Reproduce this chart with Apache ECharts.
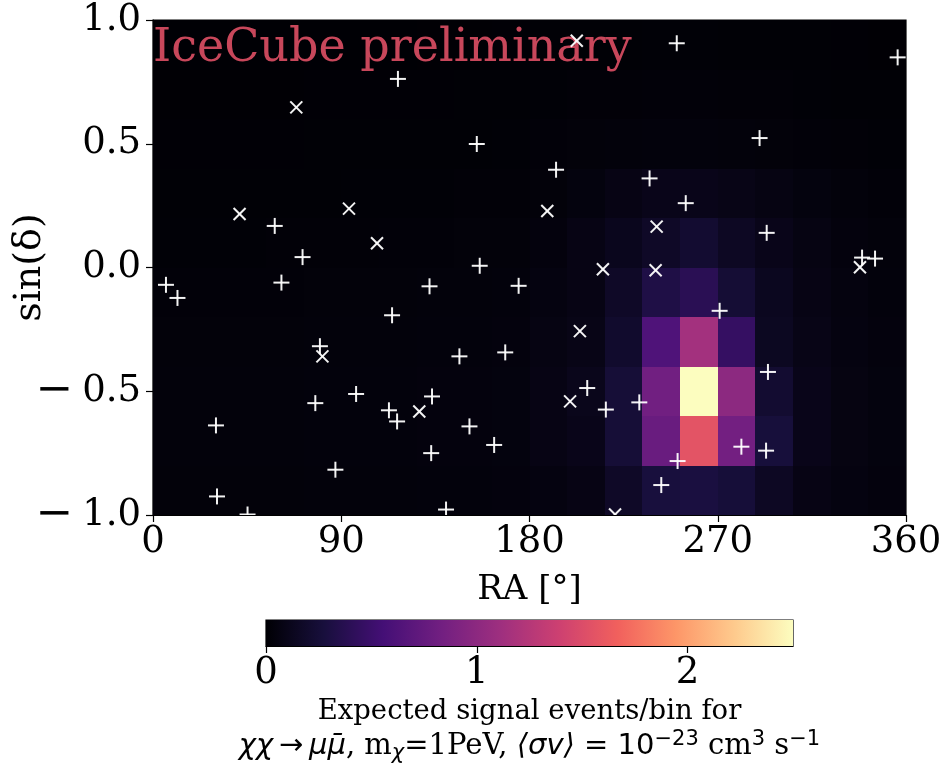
<!DOCTYPE html>
<html>
<head>
<meta charset="utf-8">
<script src="https://cdn.jsdelivr.net/npm/echarts@6/dist/echarts.min.js"></script>
<style>
  html, body { margin: 0; padding: 0; background: #ffffff; }
  #chart { width: 941px; height: 768px; }
</style>
</head>
<body>
<div id="chart"></div>
<script>
// Sky binning: right ascension (deg) and sin(declination)
const raBinStarts = [0, 18, 36, 54, 72, 90, 108, 126, 144, 162, 180, 198, 216, 234, 252, 270, 288, 306, 324, 342];
const sinBinStarts = [-1.0, -0.8, -0.6, -0.4, -0.2, 0.0, 0.2, 0.4, 0.6, 0.8];
const raBinWidth = 18;
const sinBinWidth = 0.2;

// Expected signal events per bin; one row per sin(dec) bin, from -1 upward
const signalRows = [
  [0.03, 0.03, 0.03, 0.03, 0.035, 0.035, 0.035, 0.04, 0.04, 0.045, 0.06, 0.08, 0.17, 0.28, 0.29, 0.26, 0.15, 0.08, 0.06, 0.045],
  [0.035, 0.035, 0.035, 0.035, 0.04, 0.04, 0.04, 0.045, 0.045, 0.05, 0.08, 0.1, 0.25, 0.78, 1.56, 0.84, 0.27, 0.1, 0.065, 0.05],
  [0.035, 0.035, 0.035, 0.035, 0.04, 0.04, 0.04, 0.045, 0.045, 0.05, 0.08, 0.11, 0.25, 0.83, 2.5, 1.0, 0.22, 0.1, 0.065, 0.05],
  [0.03, 0.03, 0.03, 0.03, 0.035, 0.035, 0.035, 0.04, 0.04, 0.045, 0.07, 0.09, 0.2, 0.62, 1.14, 0.46, 0.14, 0.09, 0.06, 0.045],
  [0.025, 0.025, 0.025, 0.025, 0.03, 0.03, 0.03, 0.035, 0.035, 0.04, 0.06, 0.08, 0.17, 0.32, 0.39, 0.24, 0.13, 0.08, 0.055, 0.04],
  [0.015, 0.015, 0.015, 0.02, 0.02, 0.02, 0.025, 0.025, 0.03, 0.03, 0.045, 0.08, 0.12, 0.17, 0.22, 0.15, 0.1, 0.07, 0.045, 0.035],
  [0.01, 0.01, 0.01, 0.012, 0.012, 0.015, 0.015, 0.015, 0.02, 0.02, 0.03, 0.05, 0.08, 0.1, 0.1, 0.09, 0.07, 0.05, 0.035, 0.025],
  [0.008, 0.008, 0.008, 0.008, 0.01, 0.01, 0.01, 0.012, 0.012, 0.015, 0.025, 0.03, 0.035, 0.04, 0.04, 0.035, 0.03, 0.025, 0.02, 0.015],
  [0.006, 0.006, 0.006, 0.006, 0.008, 0.008, 0.008, 0.008, 0.01, 0.01, 0.015, 0.018, 0.02, 0.022, 0.022, 0.02, 0.018, 0.015, 0.012, 0.01],
  [0.004, 0.004, 0.004, 0.004, 0.005, 0.005, 0.005, 0.006, 0.006, 0.008, 0.01, 0.012, 0.012, 0.014, 0.014, 0.012, 0.012, 0.01, 0.008, 0.006]
];

// Observed events [RA deg, sin(dec)], two event classes
const plusEvents = [
  [6.2, -0.07], [11.7, -0.123], [58.2, 0.168], [71.5, 0.042], [61.4, -0.061],
  [30.1, -0.638], [30.6, -0.925], [45.2, -0.998], [79.8, -0.318], [77.6, -0.548],
  [87.2, -0.817], [97.1, -0.511], [114.3, -0.193], [117.1, 0.762], [112.8, -0.577],
  [116.7, -0.622], [133.4, -0.521], [132.2, -0.076], [133.0, -0.75], [140.1, -0.978],
  [146.5, -0.359], [151.3, -0.642], [154.8, 0.499], [156.2, 0.007], [163.1, -0.717],
  [168.4, -0.343], [174.8, -0.074], [192.7, 0.395], [207.6, -0.487], [216.5, -0.574],
  [232.5, -0.545], [237.4, 0.36], [250.4, 0.906], [254.7, 0.26], [270.9, -0.175],
  [250.8, -0.782], [243.0, -0.879], [281.3, -0.724], [293.1, -0.74], [294.0, -0.422],
  [290.0, 0.523], [293.4, 0.14], [356.0, 0.849], [339.0, 0.04], [345.2, 0.036]
];
const crossEvents = [
  [68.5, 0.647], [41.4, 0.216], [93.7, 0.238], [107.1, 0.098], [81.0, -0.359],
  [127.3, -0.582], [188.5, 0.228], [202.6, 0.916], [204.1, -0.257], [199.4, -0.541],
  [215.1, -0.007], [240.8, 0.165], [240.3, -0.011], [220.9, -0.998], [338.0, 0.001]
];

// Axis ticks
const raTicks = [0, 90, 180, 270, 360];
const sinTicks = [-1.0, -0.5, 0.0, 0.5, 1.0];
const colorbarTicks = [0, 1, 2];

// Colour scale (magma) and its range
const magma = ['#000004', '#180f3d', '#440f76', '#721f81', '#9e2f7f', '#cd4071', '#f1605d', '#fd9668', '#feca8d', '#fcfdbf'];
const colorMin = 0;
const colorMax = 2.5;

// Flatten the map into [raStart, sinStart, value] cells
const cells = [];
signalRows.forEach((row, j) => {
  row.forEach((v, i) => cells.push([raBinStarts[i], sinBinStarts[j], v]));
});

const SERIF = 'DejaVu Serif';
const SANS = 'DejaVu Sans';
const MARK_COLOR = 'rgba(255,255,255,0.95)';
const TICK_FONT = 37;
const LABEL_FONT = 34;

// Negative tick labels use a wide, spaced minus sign
const fmtSin = v => {
  const digits = Math.abs(v).toFixed(1);
  return v < 0 ? '{mn|\u2212}{d|' + digits + '}' : '{d|' + digits + '}';
};

function renderCell(params, api) {
  const ra = api.value(0);
  const s = api.value(1);
  const p0 = api.coord([ra, s + sinBinWidth]);
  const p1 = api.coord([ra + raBinWidth, s]);
  const x0 = Math.round(p0[0]), y0 = Math.round(p0[1]);
  const x1 = Math.round(p1[0]), y1 = Math.round(p1[1]);
  return {
    type: 'rect',
    shape: { x: x0, y: y0, width: x1 - x0, height: y1 - y0 },
    style: { fill: api.visual('color') }
  };
}

function renderPlus(params, api) {
  const c = api.coord([api.value(0), api.value(1)]);
  const h = 8;
  return {
    type: 'group',
    children: [
      { type: 'line', shape: { x1: c[0] - h, y1: c[1], x2: c[0] + h, y2: c[1] }, style: { stroke: MARK_COLOR, lineWidth: 2 } },
      { type: 'line', shape: { x1: c[0], y1: c[1] - h, x2: c[0], y2: c[1] + h }, style: { stroke: MARK_COLOR, lineWidth: 2 } }
    ]
  };
}

function renderCross(params, api) {
  const c = api.coord([api.value(0), api.value(1)]);
  const h = 6;
  return {
    type: 'group',
    children: [
      { type: 'line', shape: { x1: c[0] - h, y1: c[1] - h, x2: c[0] + h, y2: c[1] + h }, style: { stroke: MARK_COLOR, lineWidth: 2 } },
      { type: 'line', shape: { x1: c[0] - h, y1: c[1] + h, x2: c[0] + h, y2: c[1] - h }, style: { stroke: MARK_COLOR, lineWidth: 2 } }
    ]
  };
}

// Colour bar: a gradient strip spanning the colour range
function renderColorbar(params, api) {
  const p0 = api.coord([api.value(0), 1]);
  const p1 = api.coord([api.value(1), 0]);
  const stops = magma.map((c, k) => ({ offset: k / (magma.length - 1), color: c }));
  return {
    type: 'rect',
    shape: { x: p0[0], y: p0[1], width: p1[0] - p0[0], height: p1[1] - p0[1] },
    style: { fill: new echarts.graphic.LinearGradient(0, 0, 1, 0, stops) }
  };
}

const axisLineStyle = { color: '#000', width: 1.2 };

const chart = echarts.init(document.getElementById('chart'), null, { renderer: 'canvas' });
chart.setOption({
  animation: false,
  backgroundColor: '#ffffff',
  title: {
    text: 'IceCube preliminary',
    left: 153,
    top: 26,
    padding: 0,
    textStyle: { fontFamily: SERIF, fontSize: 46, fontWeight: 'normal', color: '#c8475b' },
    z: 5
  },
  grid: [
    {
      left: 153, top: 20, width: 753, height: 495,
      containLabel: false, outerBoundsMode: 'none',
      show: true, borderColor: '#000', borderWidth: 1.2, backgroundColor: 'transparent'
    },
    {
      left: 266, top: 620, width: 527, height: 26,
      containLabel: false, outerBoundsMode: 'none',
      show: true, borderColor: '#000', borderWidth: 1.2, backgroundColor: 'transparent'
    }
  ],
  visualMap: {
    type: 'continuous',
    show: false,
    min: colorMin,
    max: colorMax,
    dimension: 2,
    seriesIndex: 0,
    inRange: { color: magma }
  },
  xAxis: [
    {
      gridIndex: 0, type: 'value', min: raTicks[0], max: raTicks[raTicks.length - 1], interval: 90,
      axisLine: { show: true, onZero: false, lineStyle: axisLineStyle },
      axisTick: { show: true, length: 7, lineStyle: axisLineStyle },
      axisLabel: { fontFamily: SERIF, fontSize: TICK_FONT, color: '#000', margin: 9, hideOverlap: false },
      splitLine: { show: false },
      name: 'RA [°]', nameLocation: 'middle', nameGap: 58, nameMoveOverlap: false,
      nameTextStyle: { fontFamily: SERIF, fontSize: LABEL_FONT, color: '#000' }
    },
    {
      gridIndex: 1, type: 'value', min: colorMin, max: colorMax,
      axisLine: { show: true, onZero: false, lineStyle: axisLineStyle },
      axisTick: { show: true, length: 7, lineStyle: axisLineStyle, customValues: colorbarTicks },
      axisLabel: { fontFamily: SERIF, fontSize: TICK_FONT, color: '#000', margin: 9, customValues: colorbarTicks },
      splitLine: { show: false },
      name: 'Expected signal events/bin for\n{mi|χχ\u2009→\u2009μμ̄}{rm|, m}{sub|χ}{rm|=1PeV, }{mi|⟨σv⟩}{ms| = 10}{sup|−23}{rm| cm}{sup|3}{rm| s}{sup|−1}',
      nameLocation: 'middle', nameGap: 48, nameMoveOverlap: false,
      nameTextStyle: {
        fontFamily: SERIF, fontSize: 27.5, color: '#000', lineHeight: 35,
        rich: {
          mi: { fontFamily: SANS, fontStyle: 'italic', fontSize: 29, color: '#000', lineHeight: 35 },
          ms: { fontFamily: SANS, fontSize: 29, color: '#000', lineHeight: 35 },
          rm: { fontFamily: SERIF, fontSize: 29, color: '#000', lineHeight: 35 },
          sub: { fontFamily: SANS, fontStyle: 'italic', fontSize: 21, color: '#000', lineHeight: 35, verticalAlign: 'bottom' },
          sup: { fontFamily: SANS, fontSize: 21, color: '#000', lineHeight: 20, verticalAlign: 'top' }
        }
      }
    }
  ],
  yAxis: [
    {
      gridIndex: 0, type: 'value', min: sinTicks[0], max: sinTicks[sinTicks.length - 1], interval: 0.5,
      axisLine: { show: true, onZero: false, lineStyle: axisLineStyle },
      axisTick: { show: true, length: 7, lineStyle: axisLineStyle },
      axisLabel: {
        color: '#000', margin: 12, formatter: fmtSin, hideOverlap: false,
        rich: {
          mn: { fontFamily: SERIF, fontSize: 45, color: '#000', padding: [0, 9, 0, 0] },
          d: { fontFamily: SERIF, fontSize: TICK_FONT, color: '#000' }
        }
      },
      splitLine: { show: false },
      name: 'sin(δ)', nameLocation: 'middle', nameGap: 104, nameRotate: 90, nameMoveOverlap: false,
      nameTextStyle: { fontFamily: SERIF, fontSize: 38, color: '#000' }
    },
    {
      gridIndex: 1, type: 'value', min: 0, max: 1, show: false
    }
  ],
  series: [
    {
      name: 'signal',
      type: 'custom',
      xAxisIndex: 0, yAxisIndex: 0,
      renderItem: renderCell,
      encode: { x: 0, y: 1 },
      dimensions: ['ra', 'sin', 'events'],
      data: cells,
      clip: true,
      z: 1
    },
    {
      name: 'plus',
      type: 'custom',
      xAxisIndex: 0, yAxisIndex: 0,
      renderItem: renderPlus,
      encode: { x: 0, y: 1 },
      data: plusEvents,
      clip: true,
      z: 10
    },
    {
      name: 'cross',
      type: 'custom',
      xAxisIndex: 0, yAxisIndex: 0,
      renderItem: renderCross,
      encode: { x: 0, y: 1 },
      data: crossEvents,
      clip: true,
      z: 10
    },
    {
      name: 'colorbar',
      type: 'custom',
      xAxisIndex: 1, yAxisIndex: 1,
      renderItem: renderColorbar,
      encode: { x: [0, 1] },
      data: [[colorMin, colorMax]],
      z: 1
    }
  ]
});
</script>
</body>
</html>
